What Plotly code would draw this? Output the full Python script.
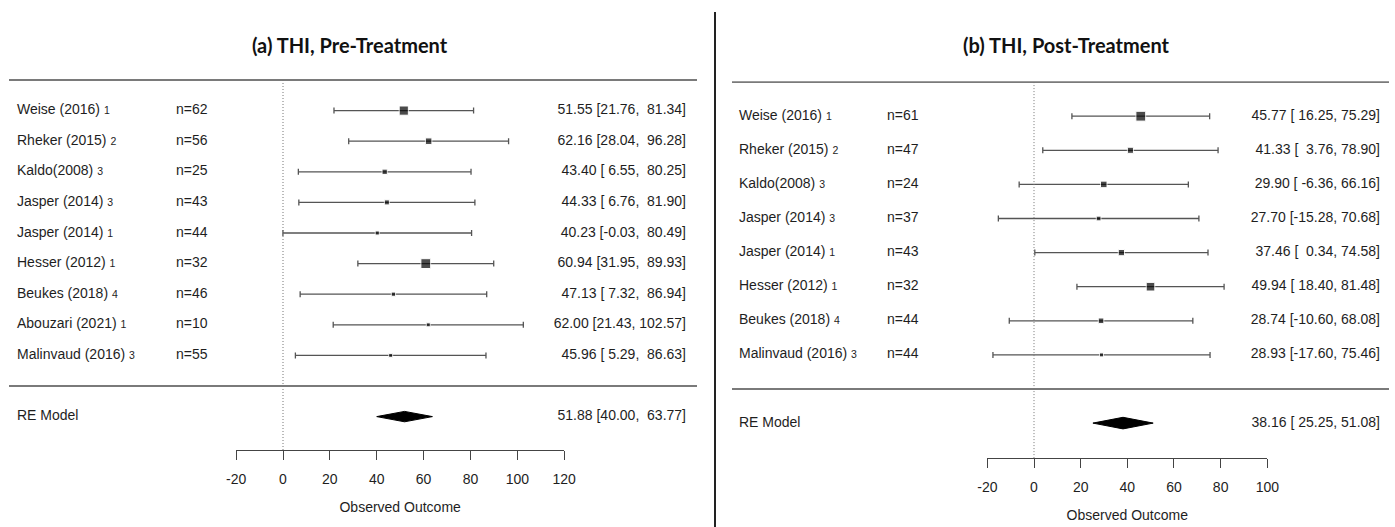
import plotly.graph_objects as go

W, H = 1395, 527
FONT = "Liberation Sans, Arial, sans-serif"
TEXT = "#1e1e1e"

# ---- (a) THI, pre-treatment ----
pre_study = ["Weise (2016)", "Rheker (2015)", "Kaldo(2008)", "Jasper (2014)", "Jasper (2014)",
             "Hesser (2012)", "Beukes (2018)", "Abouzari (2021)", "Malinvaud (2016)"]
pre_ref = ["1", "2", "3", "3", "1", "1", "4", "1", "3"]
pre_n = [62, 56, 25, 43, 44, 32, 46, 10, 55]
pre_est = [51.55, 62.16, 43.40, 44.33, 40.23, 60.94, 47.13, 62.00, 45.96]
pre_lo = [21.76, 28.04, 6.55, 6.76, -0.03, 31.95, 7.32, 21.43, 5.29]
pre_hi = [81.34, 96.28, 80.25, 81.90, 80.49, 89.93, 86.94, 102.57, 86.63]
pre_re = [51.88, 40.00, 63.77]          # estimate, lower, upper
pre_ticks = [-20, 0, 20, 40, 60, 80, 100, 120]

# ---- (b) THI, post-treatment ----
post_study = ["Weise (2016)", "Rheker (2015)", "Kaldo(2008)", "Jasper (2014)", "Jasper (2014)",
              "Hesser (2012)", "Beukes (2018)", "Malinvaud (2016)"]
post_ref = ["1", "2", "3", "3", "1", "1", "4", "3"]
post_n = [61, 47, 24, 37, 43, 32, 44, 44]
post_est = [45.77, 41.33, 29.90, 27.70, 37.46, 49.94, 28.74, 28.93]
post_lo = [16.25, 3.76, -6.36, -15.28, 0.34, 18.40, -10.60, -17.60]
post_hi = [75.29, 78.90, 66.16, 70.68, 74.58, 81.48, 68.08, 75.46]
post_re = [38.16, 25.25, 51.08]
post_ticks = [-20, 0, 20, 40, 60, 80, 100]

# pixel geometry of each forest panel
GEOM = [
    dict(x0=0, x1=715, zero=283, ppu=2.343, row0=386, rowh=30.6, axis=450,
         line=(9, 697), lab=17, ncol=176, est=686, title_cx=350),
    dict(x0=715, x1=W, zero=1034, ppu=2.333, row0=389, rowh=34.1, axis=458,
         line=(732, 1389), lab=739, ncol=887, est=1380, title_cx=1066),
]

NBSP = "\u00a0"


def ci_labels(est, lo, hi, re):
    los = [f"{v:.2f}" for v in lo + [re[1]]]
    his = [f"{v:.2f}" for v in hi + [re[2]]]
    wl = max(len(s) for s in los)
    wh = max(len(s) for s in his)
    out = []
    for e, l, h in zip(est + [re[0]], los, his):
        s = f"{e:.2f} [{l:>{wl}}, {h:>{wh}}]"
        out.append(s.replace(" ", NBSP))
    return out[:-1], out[-1]


def marker_sizes(lo, hi, smin=4.0, smax=9.8):
    se = [(h - l) / (2 * 1.959964) for l, h in zip(lo, hi)]
    w = [1 / s ** 2 for s in se]
    wmin, wmax = min(w), max(w)
    return [smin + (smax - smin) * (v - wmin) / (wmax - wmin) for v in w]


fig = go.Figure()
shapes = []
annotations = []
layout_axes = {}


def add_panel(i, study, ref, n, est, lo, hi, re, ticks, title):
    g = GEOM[i]
    xs = "" if i == 0 else "2"
    xref, yref = "x" + xs, "y" + xs
    k = len(study)
    rows = list(range(k, 0, -1))
    tox = lambda px: (px - g["zero"]) / g["ppu"]
    x_lo, x_hi = tox(g["line"][0]), tox(g["line"][1])

    layout_axes["xaxis" + xs] = dict(domain=[g["x0"] / W, g["x1"] / W],
                                     range=[tox(g["x0"]), tox(g["x1"])],
                                     visible=False, fixedrange=True, automargin=False)
    layout_axes["yaxis" + xs] = dict(domain=[0, 1],
                                     range=[(g["row0"] - H) / g["rowh"], g["row0"] / g["rowh"]],
                                     visible=False, fixedrange=True, automargin=False)
    axis_row = (g["row0"] - g["axis"]) / g["rowh"]

    # horizontal rules and reference line at zero
    for r in (k + 1, 0):
        shapes.append(dict(type="line", xref=xref, yref=yref, x0=x_lo, x1=x_hi, y0=r, y1=r,
                           line=dict(color="#7a7a7a", width=1.8)))
    shapes.append(dict(type="line", xref=xref, yref=yref, x0=0, x1=0, y0=k + 1, y1=axis_row,
                       line=dict(color="#777777", width=1, dash="1px,2px")))

    # confidence intervals, then the study squares on top
    fig.add_trace(go.Scatter(
        x=est, y=rows, xaxis=xref, yaxis=yref, mode="markers",
        marker=dict(symbol="square", size=1, color="rgba(0,0,0,0)"),
        error_x=dict(type="data", symmetric=False,
                     array=[h - e for e, h in zip(est, hi)],
                     arrayminus=[e - l for e, l in zip(est, lo)],
                     color="#555555", thickness=1.3, width=3),
        hoverinfo="skip", showlegend=False, cliponaxis=False))
    fig.add_trace(go.Scatter(
        x=est, y=rows, xaxis=xref, yaxis=yref, mode="markers",
        marker=dict(symbol="square", size=marker_sizes(lo, hi), color="black"),
        hoverinfo="skip", showlegend=False, cliponaxis=False))

    # pooled random-effects diamond
    hh = 0.17
    fig.add_trace(go.Scatter(
        x=[re[1], re[0], re[2], re[0], re[1]], y=[-1, -1 + hh, -1, -1 - hh, -1],
        xaxis=xref, yaxis=yref, mode="lines", fill="toself", fillcolor="black",
        line=dict(color="black", width=1), hoverinfo="skip", showlegend=False))

    labels = [f"{s} <span style='font-size:10.5px'>{r}</span>" for s, r in zip(study, ref)]
    ci_txt, re_txt = ci_labels(est, lo, hi, re)
    tf = dict(family=FONT, size=14, color=TEXT)
    fig.add_trace(go.Scatter(x=[tox(g["lab"])] * (k + 1), y=rows + [-1], xaxis=xref, yaxis=yref,
                             mode="text", text=labels + ["RE Model"], textposition="middle right",
                             textfont=tf, hoverinfo="skip", showlegend=False, cliponaxis=False))
    fig.add_trace(go.Scatter(x=[tox(g["ncol"])] * k, y=rows, xaxis=xref, yaxis=yref,
                             mode="text", text=[f"n={v}" for v in n], textposition="middle right",
                             textfont=tf, hoverinfo="skip", showlegend=False, cliponaxis=False))
    fig.add_trace(go.Scatter(x=[tox(g["est"])] * (k + 1), y=rows + [-1], xaxis=xref, yaxis=yref,
                             mode="text", text=ci_txt + [re_txt], textposition="middle left",
                             textfont=tf, hoverinfo="skip", showlegend=False, cliponaxis=False))

    # outcome axis spanning the tick range only
    ax = str(3 + i)
    px_a, px_b = g["zero"] + g["ppu"] * ticks[0], g["zero"] + g["ppu"] * ticks[-1]
    layout_axes["xaxis" + ax] = dict(
        domain=[px_a / W, px_b / W], range=[ticks[0], ticks[-1]], anchor="y" + ax,
        tickvals=ticks, ticktext=[str(t) for t in ticks], ticks="outside", ticklen=9,
        tickwidth=1.2, tickcolor="#444", showline=True, linecolor="#444", linewidth=1.2,
        showgrid=False, zeroline=False, automargin=False,
        tickfont=dict(family=FONT, size=14, color=TEXT), ticklabelstandoff=7,
        title=dict(text="Observed Outcome", font=dict(family=FONT, size=14, color=TEXT),
                   standoff=16), fixedrange=True)
    layout_axes["yaxis" + ax] = dict(domain=[1 - g["axis"] / H, 1], range=[0, 1],
                                     anchor="x" + ax, visible=False, fixedrange=True,
                                     automargin=False)
    fig.add_trace(go.Scatter(x=[ticks[0], ticks[-1]], y=[0.5, 0.5], xaxis="x" + ax, yaxis="y" + ax,
                             mode="markers", marker=dict(opacity=0), hoverinfo="skip",
                             showlegend=False))

    annotations.append(dict(text=f"<b>{title}</b>", x=g["title_cx"] / W, y=1 - 45 / H,
                            xref="paper", yref="paper", xanchor="center", yanchor="middle",
                            showarrow=False, font=dict(family="Lato, Open Sans, sans-serif",
                                                       size=20, color="#111")))


add_panel(0, pre_study, pre_ref, pre_n, pre_est, pre_lo, pre_hi, pre_re, pre_ticks,
          "(a) THI, Pre-Treatment")
add_panel(1, post_study, post_ref, post_n, post_est, post_lo, post_hi, post_re, post_ticks,
          "(b) THI, Post-Treatment")

# divider between the two panels
shapes.append(dict(type="line", xref="paper", yref="paper", x0=715 / W, x1=715 / W,
                   y0=1 - 12 / H, y1=0, line=dict(color="#222", width=2)))

fig.update_layout(width=W, height=H, autosize=False, margin=dict(l=0, r=0, t=0, b=0, pad=0),
                  paper_bgcolor="white", plot_bgcolor="rgba(0,0,0,0)",
                  shapes=shapes, annotations=annotations, **layout_axes)

fig.write_html("out.html")
